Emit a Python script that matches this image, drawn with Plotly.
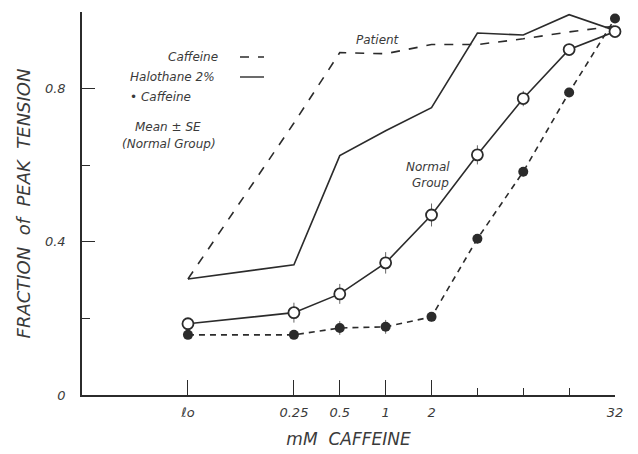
import math
import plotly.graph_objects as go

# ---------------- data ----------------
concentrations = [0, 0.25, 0.5, 1, 2, 4, 8, 16, 32]          # mM caffeine
tick_labels = ["ℓo", "0.25", "0.5", "1", "2", "", "", "", "32"]

normal_caffeine = [0.186, 0.215, 0.264, 0.345, 0.470, 0.627, 0.774, 0.902, 0.949]
normal_caffeine_se = [0.015, 0.026, 0.026, 0.028, 0.03, 0.025, 0.02, 0.015, 0.01]
normal_halothane = [0.157, 0.157, 0.175, 0.178, 0.204, 0.408, 0.583, 0.790, 0.983]
normal_halothane_se = [0.01, 0.01, 0.018, 0.018, 0.012, 0.012, 0.012, 0.012, 0.01]
patient_caffeine = [0.303, 0.710, 0.894, 0.891, 0.915, 0.915, 0.930, 0.948, 0.963]
patient_halothane = [0.303, 0.340, 0.625, 0.690, 0.750, 0.945, 0.940, 0.993, 0.952]

# axis scale: log2 spacing from 0.25 mM, zero drawn on a broken-axis position
ZERO_POS = -2.31
def xpos(c):
    return ZERO_POS if c == 0 else math.log2(c / 0.25)
x = [xpos(c) for c in concentrations]

INK = "#2b2b2b"
FONT = dict(family="DejaVu Sans", color="#3a3a3a", style="italic")

fig = go.Figure()

fig.add_trace(go.Scatter(x=x, y=patient_caffeine, mode="lines",
                         line=dict(color=INK, width=1.6, dash="dash"),
                         cliponaxis=False, showlegend=False))
fig.add_trace(go.Scatter(x=x, y=patient_halothane, mode="lines",
                         line=dict(color=INK, width=1.6),
                         cliponaxis=False, showlegend=False))
fig.add_trace(go.Scatter(x=x, y=normal_halothane, mode="lines+markers",
                         line=dict(color=INK, width=1.6, dash="6px,5px"),
                         marker=dict(symbol="circle", size=10, color=INK),
                         error_y=dict(type="data", array=normal_halothane_se,
                                      color="#666", thickness=1, width=0),
                         cliponaxis=False, showlegend=False))
fig.add_trace(go.Scatter(x=x, y=normal_caffeine, mode="lines+markers",
                         line=dict(color=INK, width=1.6),
                         marker=dict(symbol="circle", size=11, color="white",
                                     line=dict(color=INK, width=1.8)),
                         error_y=dict(type="data", array=normal_caffeine_se,
                                      color="#666", thickness=1, width=0),
                         cliponaxis=False, showlegend=False))

# ---------------- layout ----------------
# page body has an 8px margin, so the figure is sized/placed to compensate
OFF = 8
W, H = 638 - OFF, 454 - OFF
L, R, T, B = 82 - OFF, 23, 12 - OFF, 59
pw, ph = W - L - R, H - T - B

def px(xp):           # page pixel -> paper fraction
    return (xp - 82) / pw

def py(yp):
    return (395 - yp) / ph

fig.update_layout(
    width=W, height=H,
    margin=dict(l=L, r=R, t=T, b=B),
    paper_bgcolor="white", plot_bgcolor="white",
    xaxis=dict(range=[-4.62, 7], showgrid=False, zeroline=False, automargin=False,
               showline=True, linecolor=INK, linewidth=1.6,
               tickmode="array", tickvals=[x[i] for i in (0, 1, 2, 3, 4, 8)],
               ticktext=[tick_labels[i] for i in (0, 1, 2, 3, 4, 8)],
               ticks="inside", ticklen=15, tickwidth=1.4, tickcolor=INK,
               minor=dict(tickmode="array", tickvals=[x[i] for i in (5, 6, 7)],
                          ticks="inside", ticklen=7, tickwidth=1.2, tickcolor=INK),
               tickfont=dict(size=13, **FONT), ticklabelstandoff=5,
               title=dict(text="mM  CAFFEINE", font=dict(size=17, **FONT), standoff=14)),
    yaxis=dict(range=[0, 1.0], showgrid=False, zeroline=False, automargin=False,
               showline=True, linecolor=INK, linewidth=1.6,
               tickmode="array", tickvals=[0, 0.4, 0.8], ticktext=["0", "0.4", "0.8"],
               ticks="inside", ticklen=13, tickwidth=1.4, tickcolor=INK,
               minor=dict(tickmode="array", tickvals=[0.2, 0.6, 1.0],
                          ticks="inside", ticklen=8, tickwidth=1.2, tickcolor=INK),
               tickfont=dict(size=13, **FONT), ticklabelstandoff=12,
               title=dict(text="FRACTION  of  PEAK  TENSION", font=dict(size=18, **FONT),
                          standoff=10)),
)

ann = [
    ("Caffeine", 220, 57, "right"),
    ("Halothane 2%", 128, 77, "left"),
    ("• Caffeine", 128, 97, "left"),
    ("Mean ± SE", 168, 127, "center"),
    ("(Normal Group)", 169, 144, "center"),
    ("Patient", 378, 40, "center"),
    ("Normal", 428, 167, "center"),
    ("Group", 430, 183, "center"),
]
for text, xp, yp, anchor in ann:
    fig.add_annotation(text=text, xref="paper", yref="paper", x=px(xp), y=py(yp),
                       xanchor=anchor, yanchor="middle", showarrow=False,
                       font=dict(size=12, **FONT))

fig.add_shape(type="line", xref="paper", yref="paper", x0=px(240), x1=px(264),
              y0=py(57), y1=py(57), line=dict(color=INK, width=1.4, dash="dash"))
fig.add_shape(type="line", xref="paper", yref="paper", x0=px(240), x1=px(264),
              y0=py(77), y1=py(77), line=dict(color=INK, width=1.4))

fig.write_html("out.html")
